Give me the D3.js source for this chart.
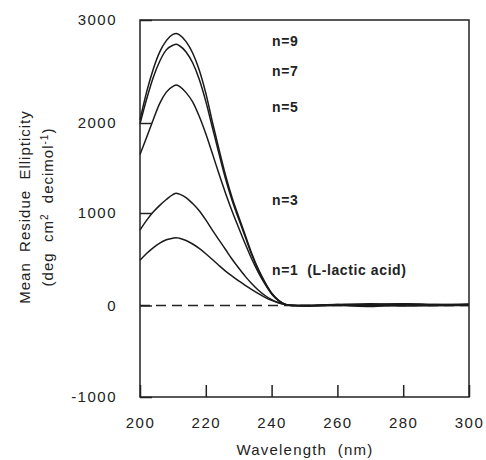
<!DOCTYPE html>
<html lang="en">
<head>
<meta charset="utf-8">
<script src="https://d3js.org/d3.v7.min.js"></script>
<style>
  body { margin: 0; background: #fff; }
  text { font-family: "Liberation Sans", Arial, sans-serif; fill: #222; }
</style>
</head>
<body>
<div id="container"></div>
<script>
// wavelengths (nm) and mean residue ellipticity for each oligomer
var wavelengths = [200,202,204,206,208,210,211,212,214,216,218,220,222,224,226,228,230,232,234,236,238,240,242,244,246,250,260,270,280,290,300];
var n9 = [2030,2300,2520,2690,2800,2860,2870,2855,2790,2680,2515,2290,2010,1710,1420,1170,960,760,560,390,250,135,60,15,0,-5,10,20,15,10,15];
var n7 = [1990,2230,2440,2600,2710,2755,2765,2750,2690,2585,2425,2210,1950,1660,1380,1140,935,740,545,380,245,130,58,14,0,0,5,10,20,5,10];
var n5 = [1650,1840,2030,2190,2300,2355,2369,2355,2295,2205,2065,1880,1660,1435,1220,1020,840,665,500,355,230,125,55,14,0,-5,0,-10,5,0,5];
var n3 = [816,920,1010,1085,1150,1205,1219,1210,1172,1105,1025,925,815,710,605,500,405,315,235,165,108,63,32,12,2,0,10,-5,15,10,5];
var n1 = [490,563,623,675,710,728,733,727,703,665,617,560,497,433,372,318,266,218,172,128,88,55,30,12,3,0,5,5,-5,0,0];
var seriesLabels = ["n=9", "n=7", "n=5", "n=3", "n=1  (L-lactic acid)"];
var labelYs = [2800, 2500, 2150, 1140, 380];
var xTicks = [200, 220, 240, 260, 280, 300];
var yTicks = [-1000, 0, 1000, 2000, 3000];

var width = 486, height = 460;
var svg = d3.select("#container").append("svg")
    .attr("width", width)
    .attr("height", height);

var x = d3.scaleLinear().domain([200, 300]).range([140, 469]);
// the printed axis is not evenly spaced, so map each tick to its place
var y = d3.scaleLinear().domain(yTicks).range([397, 305.5, 213, 123, 20]);

// zero reference line
svg.append("line")
    .attr("x1", x(200)).attr("x2", x(300))
    .attr("y1", y(0)).attr("y2", y(0))
    .attr("stroke", "#222").attr("stroke-width", 1.5)
    .attr("stroke-dasharray", "10,6");

var line = d3.line()
    .x(function(d) { return x(d[0]); })
    .y(function(d) { return y(d[1]); })
    .curve(d3.curveMonotoneX);

[n9, n7, n5, n3, n1].forEach(function(vals) {
    svg.append("path")
        .datum(wavelengths.map(function(w, i) { return [w, vals[i]]; }))
        .attr("d", line)
        .attr("fill", "none")
        .attr("stroke", "#1a1a1a")
        .attr("stroke-width", 1.5);
});

// axes with inward ticks
var xAxis = svg.append("g")
    .attr("transform", "translate(0," + y(-1000) + ")")
    .call(d3.axisBottom(x).tickValues(xTicks).tickSize(-12).tickPadding(20).tickFormat(String));
var yAxis = svg.append("g")
    .attr("transform", "translate(" + x(200) + ",0)")
    .call(d3.axisLeft(y).tickValues(yTicks).tickSize(-12).tickPadding(23).tickFormat(String));
[xAxis, yAxis].forEach(function(g) {
    g.select(".domain").remove();
    g.selectAll(".tick line").attr("stroke", "#222").attr("stroke-width", 1.5);
    g.selectAll(".tick text")
        .style("font-size", "15px")
        .style("letter-spacing", "1.5px")
        .attr("fill", "#222");
});
xAxis.selectAll(".tick text").attr("dy", "0.71em");

// frame
svg.append("rect")
    .attr("x", x(200)).attr("y", y(3000))
    .attr("width", x(300) - x(200)).attr("height", y(-1000) - y(3000))
    .attr("fill", "none").attr("stroke", "#222").attr("stroke-width", 1.5);

// series labels
seriesLabels.forEach(function(t, i) {
    svg.append("text")
        .attr("x", 272)
        .attr("y", y(labelYs[i]))
        .attr("dy", "0.35em")
        .style("font-size", "14px")
        .style("font-weight", "bold")
        .style("letter-spacing", "0.6px")
        .style("white-space", "pre")
        .text(t);
});

// axis titles
svg.append("text")
    .attr("x", 305).attr("y", 450)
    .attr("text-anchor", "middle")
    .attr("dy", "0.35em")
    .style("font-size", "15px")
    .style("letter-spacing", "1.2px")
    .style("white-space", "pre")
    .text("Wavelength  (nm)");

svg.append("text")
    .attr("transform", "translate(25,207) rotate(-90)")
    .attr("text-anchor", "middle")
    .attr("dy", "0.35em")
    .style("font-size", "15px")
    .style("letter-spacing", "1px")
    .style("white-space", "pre")
    .text("Mean  Residue  Ellipticity");

var yTitle2 = svg.append("text")
    .attr("transform", "translate(48,207) rotate(-90)")
    .attr("text-anchor", "middle")
    .attr("dy", "0.35em")
    .style("font-size", "15px")
    .style("letter-spacing", "1px")
    .style("white-space", "pre");
yTitle2.append("tspan").text("(deg  cm");
yTitle2.append("tspan").attr("baseline-shift", "super").style("font-size", "10px").text("2");
yTitle2.append("tspan").text("  decimol");
yTitle2.append("tspan").attr("baseline-shift", "super").style("font-size", "10px").text("-1");
yTitle2.append("tspan").text(")");
</script>
</body>
</html>
